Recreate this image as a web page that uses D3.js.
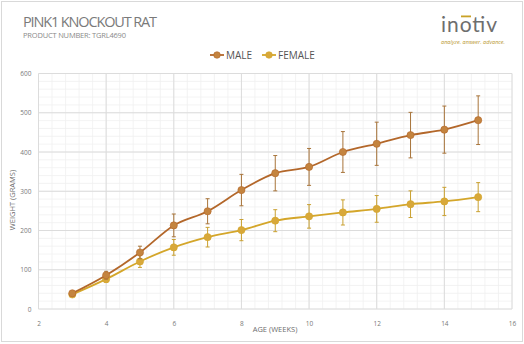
<!DOCTYPE html>
<html><head><meta charset="utf-8">
<script src="https://cdn.jsdelivr.net/npm/d3@7"></script>
<style>body{margin:0;background:#fff;}svg{display:block;font-family:"Open Sans","Liberation Sans",sans-serif;}</style>
</head><body><div id="chart"></div>
<script>
const weeks = [3,4,5,6,7,8,9,10,11,12,13,14,15];
const maleMean = [40,86,144,213,249,303,346,362,400,421,443,457,481];
const maleErr  = [5,10,16,29,32,40,45,47,52,55,58,60,62];
const femaleMean = [37,76,121,157,183,201,225,236,246,255,267,274,285];
const femaleErr  = [5,8,15,20,25,27,28,30,32,34,34,36,37];
const xTicks = [2,4,6,8,10,12,14,16];
const yTicks = [0,100,200,300,400,500,600];

const W=524,H=344;
const svg=d3.select("#chart").append("svg").attr("width",W).attr("height",H);
svg.append("rect").attr("x",1.5).attr("y",1.5).attr("width",W-3).attr("height",H-4).attr("fill","#fff").attr("stroke","#d9d9d9");

svg.append("text").attr("x",23).attr("y",27).attr("font-size",14.5).attr("fill","#7a7a7a").attr("textLength",134).text("PINK1 KNOCKOUT RAT");
svg.append("text").attr("x",23).attr("y",38).attr("font-size",7.5).attr("fill","#8a8a8a").attr("textLength",103).text("PRODUCT NUMBER: TGRL4690");

// logo
const logo=svg.append("g");
logo.append("text").attr("x",441).attr("y",32).attr("font-size",21).attr("fill","#6e6e6e").attr("font-family","Lato, sans-serif").attr("textLength",56).text("inotiv");
logo.append("rect").attr("x",461).attr("y",15.5).attr("width",10).attr("height",1.8).attr("fill","#c9a227");
logo.append("text").attr("x",441).attr("y",44).attr("font-size",5.5).attr("fill","#b8962e").attr("font-style","italic").attr("textLength",64).text("analyze. answer. advance.");

const x=d3.scaleLinear().domain([2,16]).range([38.5,512]);
const y=d3.scaleLinear().domain([0,600]).range([309,73.5]);

const g=svg.append("g");
const xMinor=d3.range(2,16.001,0.4), yMinor=d3.range(0,600.001,20);
g.selectAll(".xm").data(xMinor).enter().append("line").attr("x1",d=>x(d)).attr("x2",d=>x(d)).attr("y1",y(0)).attr("y2",y(600)).attr("stroke","#f0f0f0").attr("stroke-width",0.8);
g.selectAll(".ym").data(yMinor).enter().append("line").attr("y1",d=>y(d)).attr("y2",d=>y(d)).attr("x1",x(2)).attr("x2",x(16)).attr("stroke","#f0f0f0").attr("stroke-width",0.8);
g.selectAll(".xM").data(xTicks).enter().append("line").attr("x1",d=>x(d)).attr("x2",d=>x(d)).attr("y1",y(0)).attr("y2",y(600)).attr("stroke","#dcdcdc").attr("stroke-width",1);
g.selectAll(".yM").data(yTicks).enter().append("line").attr("y1",d=>y(d)).attr("y2",d=>y(d)).attr("x1",x(2)).attr("x2",x(16)).attr("stroke","#dcdcdc").attr("stroke-width",1);

const xa=svg.append("g").attr("transform",`translate(0,${y(0)+9})`).call(d3.axisBottom(x).tickValues(xTicks).tickSize(0));
xa.select(".domain").remove();
xa.selectAll("text").attr("font-size",6.5).attr("fill","#7a7a7a").attr("font-family","Open Sans, sans-serif");
const ya=svg.append("g").attr("transform",`translate(${x(2)-4},0)`).call(d3.axisLeft(y).tickValues(yTicks).tickSize(0));
ya.select(".domain").remove();
ya.selectAll("text").attr("font-size",6.5).attr("fill","#7a7a7a").attr("font-family","Open Sans, sans-serif");

svg.append("text").attr("x",275).attr("y",332).attr("text-anchor","middle").attr("font-size",7.5).attr("fill","#6e6e6e").text("AGE (WEEKS)");
svg.append("text").attr("transform","translate(15,200) rotate(-90)").attr("text-anchor","middle").attr("font-size",7.5).attr("fill","#6e6e6e").text("WEIGHT (GRAMS)");

function series(mean,err,lineC,markC,errC){
  const data=weeks.map((w,i)=>({w,m:mean[i],e:err[i]}));
  const sg=svg.append("g");
  sg.append("path").datum(data).attr("fill","none").attr("stroke",lineC).attr("stroke-width",1.8)
    .attr("d",d3.line().x(d=>x(d.w)).y(d=>y(d.m)).curve(d3.curveMonotoneX));
  data.forEach(d=>{
    sg.append("line").attr("x1",x(d.w)).attr("x2",x(d.w)).attr("y1",y(d.m-d.e)).attr("y2",y(d.m+d.e)).attr("stroke",errC).attr("stroke-width",1);
    [d.m-d.e,d.m+d.e].forEach(v=>sg.append("line").attr("x1",x(d.w)-2).attr("x2",x(d.w)+2).attr("y1",y(v)).attr("y2",y(v)).attr("stroke",errC).attr("stroke-width",1));
  });
  sg.selectAll("circle").data(data).enter().append("circle").attr("cx",d=>x(d.w)).attr("cy",d=>y(d.m)).attr("r",3.6).attr("fill",markC).attr("stroke",lineC).attr("stroke-width",0.6);
}
series(femaleMean,femaleErr,"#d4a62a","#d8a83a","#c9a030");
series(maleMean,maleErr,"#b3672a","#c4843f","#a8743a");

function leg(x0,label,lineC,markC){
  svg.append("line").attr("x1",x0).attr("x2",x0+14).attr("y1",55).attr("y2",55).attr("stroke",lineC).attr("stroke-width",1.8);
  svg.append("circle").attr("cx",x0+7).attr("cy",55).attr("r",3.3).attr("fill",markC).attr("stroke",lineC).attr("stroke-width",0.6);
  svg.append("text").attr("x",x0+16).attr("y",58.5).attr("font-size",10).attr("fill","#555").text(label);
}
leg(210,"MALE","#b3672a","#c4843f");
leg(262,"FEMALE","#d4a62a","#d8a83a");
</script></body></html>
